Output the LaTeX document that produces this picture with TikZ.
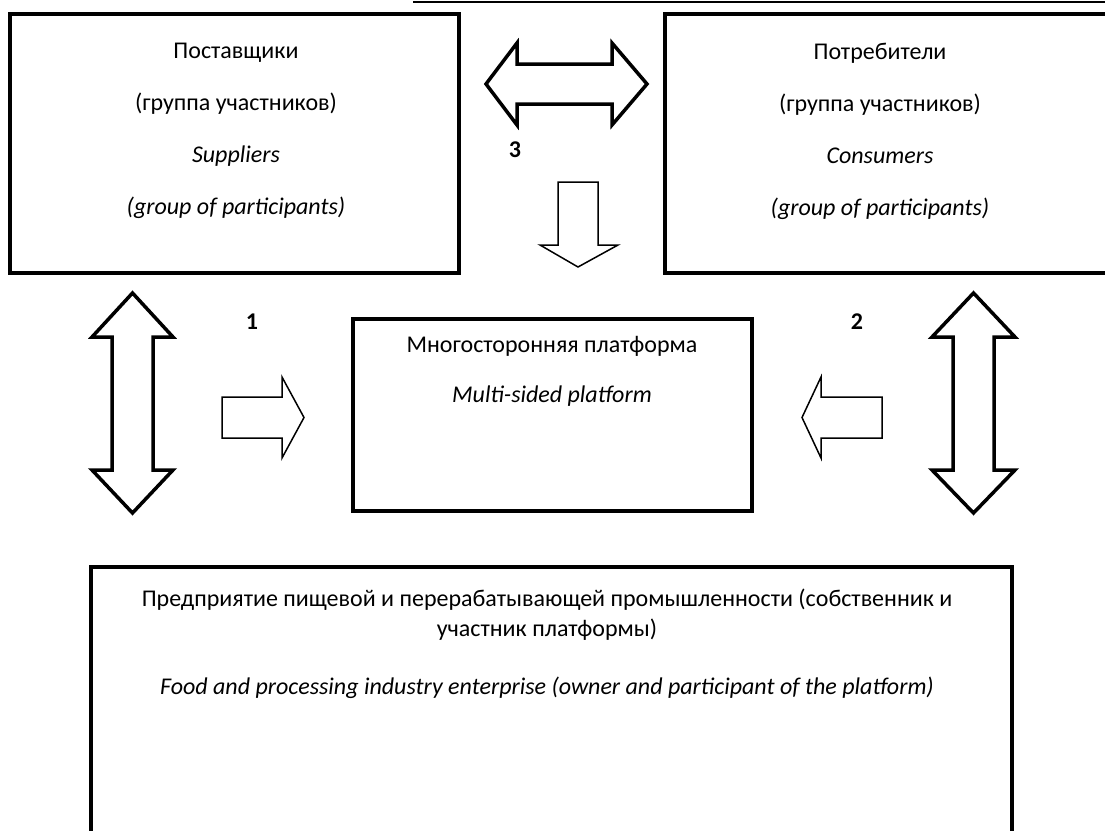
\documentclass[tikz,border=0pt]{standalone}
\usepackage{fontspec}
\setmainfont{Carlito}
\usetikzlibrary{positioning}

\begin{document}
\begin{tikzpicture}[x=1pt, y=-1pt,
  box/.style={draw, line width=3.5pt, inner sep=0pt},
  txt/.style={align=center, font=\fontsize{24}{52}\selectfont},
  num/.style={font=\fontsize{24}{30}\selectfont\bfseries},
  blockarrow/.style={draw, line width=3.5pt, line join=miter, fill=white},
  thinarrow/.style={draw, line width=1.5pt, line join=miter, fill=white}]
\useasboundingbox (0,0) rectangle (1105,830);
\fill[white] (0,0) rectangle (1105,830);
\clip (0,0) rectangle (1105,830);

\draw[line width=2pt] (413,1.5) -- (1105,1.5);

% boxes
\node[box, minimum width=449pt, minimum height=259pt] (suppl) at (234.5,143.5) {};
\node[box, minimum width=450pt, minimum height=259pt] (cons) at (890,143.5) {};
\node[box, minimum width=399pt, minimum height=192pt] (msp) at (552.5,415) {};
\node[box, minimum width=921pt, minimum height=300pt] (ent) at (551.5,717) {};

\node[txt] (suppl-t) at (236,131) {Поставщики\\(группа участников)\\\textit{Suppliers}\\\textit{(group of participants)}};
\node[txt] (cons-t) at (880,131) {Потребители\\(группа участников)\\\textit{Consumers}\\\textit{(group of participants)}};
\node[txt, font=\fontsize{24}{50}\selectfont] (msp-t) at (552,371) {Многосторонняя платформа\\\textit{Multi-sided platform}};
\node[txt, font=\fontsize{24}{30}\selectfont] (ent-t) at (547,644) {Предприятие пищевой и перерабатывающей промышленности (собственник и\\участник платформы)\\[28pt]\textit{Food and processing industry enterprise (owner and participant of the platform)}};

\node[num] (n1) at (252,322) {1};
\node[num] (n2) at (857,322) {2};
\node[num] (n3) at (515,150) {3};

% block arrows
\draw[blockarrow] (132.5,293) -- (173,337) -- (153,337) -- (153,470) -- (173,470) -- (132.5,513) -- (92,470) -- (112,470) -- (112,337) -- (92,337) -- cycle;
\draw[blockarrow] (973.5,293) -- (1015,337) -- (994,337) -- (994,470) -- (1015,470) -- (973.5,513) -- (932,470) -- (953,470) -- (953,337) -- (932,337) -- cycle;
\draw[blockarrow] (486,84) -- (517,43) -- (517,64) -- (612,64) -- (612,43) -- (647,84) -- (612,125) -- (612,104) -- (517,104) -- (517,125) -- cycle;
\draw[thinarrow] (558,182) -- (598,182) -- (598,245) -- (618,245) -- (578,267) -- (540,245) -- (558,245) -- cycle;
\draw[thinarrow] (222,397) -- (282,397) -- (282,377) -- (304,417.5) -- (282,458) -- (282,438) -- (222,438) -- cycle;
\draw[thinarrow] (882,397) -- (821,397) -- (821,377) -- (802,417.5) -- (821,458) -- (821,438) -- (882,438) -- cycle;
\end{tikzpicture}
\end{document}
